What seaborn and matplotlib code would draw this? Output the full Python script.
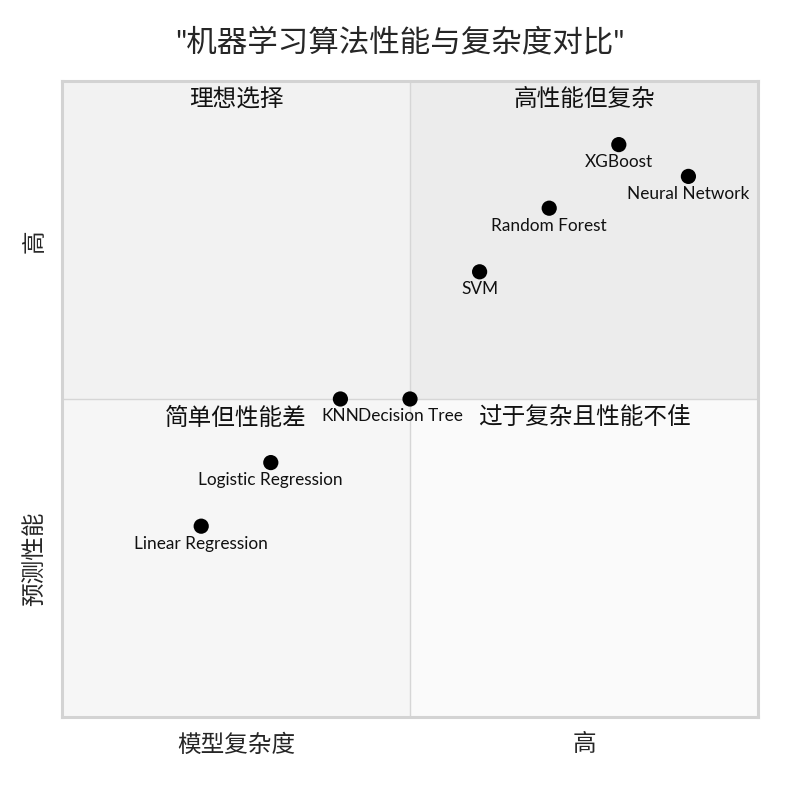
import pandas as pd
import seaborn as sns
import matplotlib.pyplot as plt
from matplotlib.patches import Rectangle

models = ['XGBoost', 'Neural Network', 'Random Forest', 'SVM', 'KNN',
          'Decision Tree', 'Logistic Regression', 'Linear Regression']
complexity = [0.80, 0.90, 0.70, 0.60, 0.40, 0.50, 0.30, 0.20]
performance = [0.90, 0.85, 0.80, 0.70, 0.50, 0.50, 0.40, 0.30]

quadrant_names = ['高性能但复杂', '理想选择', '简单但性能差', '过于复杂且性能不佳']
x_axis_labels = ['模型复杂度', '高']
y_axis_labels = ['预测性能', '高']
title = '"机器学习算法性能与复杂度对比"'

df = pd.DataFrame({'model': models, 'complexity': complexity, 'performance': performance})

sns.set_theme(style="white")
plt.rcParams['font.family'] = ['Lato', 'Noto Sans CJK SC', 'DejaVu Sans']

fig = plt.figure(figsize=(7.99, 8.04), dpi=100)
ax = fig.add_axes([0.0776, 0.107, 0.8711, 0.791])
ax.set_xlim(0, 1)
ax.set_ylim(0, 1)

# quadrant backgrounds: (x0, y0, colour)
quads = [(0.5, 0.5, '#ececec'), (0, 0.5, '#f2f2f2'), (0, 0, '#f6f6f6'), (0.5, 0, '#fafafa')]
for (x0, y0, c), name in zip(quads, quadrant_names):
    ax.add_patch(Rectangle((x0, y0), 0.5, 0.5, facecolor=c, edgecolor='none', zorder=0))
    ax.text(x0 + 0.25, y0 + 0.5 - 0.01, name, ha='center', va='top', fontsize=17,
            color='#111111', zorder=3)

ax.axvline(0.5, color='#d6d6d6', lw=1, zorder=1)
ax.axhline(0.5, color='#d6d6d6', lw=1, zorder=1)

sns.scatterplot(data=df, x='complexity', y='performance', ax=ax, color='black',
                s=120, edgecolor='none', zorder=4, legend=False)
for m, x, y in zip(models, complexity, performance):
    ax.annotate(m, (x, y), xytext=(0, -6), textcoords='offset points',
                ha='center', va='top', fontsize=12.4, color='#111111', zorder=5)

for s in ax.spines.values():
    s.set_color('#d3d3d3')
    s.set_linewidth(2.2)
ax.set_xticks([])
ax.set_yticks([])
ax.set_xlabel('')
ax.set_ylabel('')

# axis labels at quadrant centres
for xl, xc in zip(x_axis_labels, [0.25, 0.75]):
    ax.text(xc, -0.024, xl, transform=ax.transAxes, ha='center', va='top', fontsize=17)
for yl, yc in zip(y_axis_labels, [0.25, 0.75]):
    ax.text(-0.024, yc, yl, transform=ax.transAxes, ha='right', va='center',
            rotation=90, fontsize=17)

fig.text(0.5, 0.948, title, ha='center', va='center', fontsize=22)

plt.savefig('out.png', dpi=100)
